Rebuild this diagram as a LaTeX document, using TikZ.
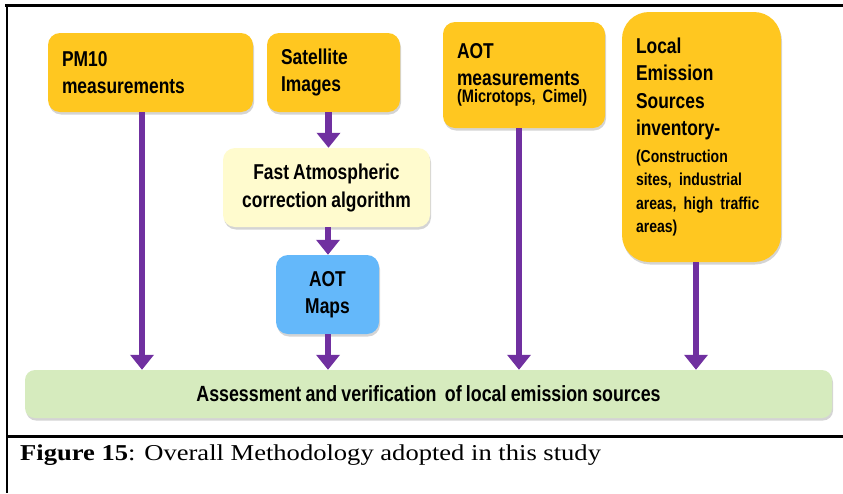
\documentclass[tikz,border=0pt]{standalone}
\usepackage{fontspec}
\setmainfont{Liberation Serif}
\newfontfamily\bxfont[FakeStretch=0.81,WordSpace=0.85]{Liberation Sans}
\newfontfamily\capfont[FakeStretch=1.17]{Liberation Serif}
\usetikzlibrary{arrows.meta,shadows}
\definecolor{gold}{RGB}{255,199,32}
\definecolor{paleyel}{RGB}{255,251,206}
\definecolor{skyblue}{RGB}{100,184,250}
\definecolor{palegreen}{RGB}{214,235,190}
\definecolor{arrowpurple}{RGB}{112,48,160}
\tikzset{
  shad/.style={drop shadow={shadow xshift=1pt,shadow yshift=-2.5pt,opacity=0.28,fill=black!60}},
  goldbox/.style={shad,fill=gold,draw=none,rounded corners=12pt,inner xsep=14pt,inner ysep=0pt,align=left,
     font=\bxfont\bfseries\frenchspacing\fontsize{21.5}{27.5}\selectfont},
  flowarr/.style={draw=arrowpurple,line width=6.5pt,-{Triangle[width=23pt,length=15pt]}},
  frameline/.style={draw=black,line width=2.5pt}
}
\begin{document}
\begin{tikzpicture}[x=1pt,y=-1pt]
\useasboundingbox (0,0) rectangle (843,493);
% frame
\draw[frameline] (5,5.5) -- (843,5.5);
\draw[draw=black,line width=2pt] (7,5) -- (7,493);
\draw[draw=black,line width=2.2pt] (6,436.5) -- (843,436.5);
% boxes
\node[goldbox,text width=177pt,minimum height=79pt] (pm) at (150.5,72.5) {PM10\\measurements};
\node[goldbox,text width=105pt,minimum height=79pt] (sat) at (333.5,72.5) {Satellite\\Images};
\node[goldbox,text width=134pt,minimum height=106pt] (aot) at (524,75) {AOT\\measurements\par\vspace{-3pt}{\fontsize{18}{20}\selectfont (Microtops, Cimel)\par}};
\node[goldbox,rounded corners=27pt,text width=131pt,minimum height=250pt] (loc) at (701.5,137)
  {Local\\Emission\\Sources\\inventory-\par\vspace{3pt}\fontsize{17.3}{23.5}\selectfont(Construction\\sites, industrial\\areas, high traffic\\areas)\par};
\node[shad,fill=paleyel,rounded corners=12pt,minimum width=207pt,minimum height=79pt,align=center,
  font=\bxfont\bfseries\fontsize{21.5}{28}\selectfont] (fast) at (326.5,187.5) {Fast Atmospheric\\correction algorithm};
\node[shad,fill=skyblue,rounded corners=12pt,minimum width=103pt,minimum height=79pt,align=center,
  font=\bxfont\bfseries\fontsize{21.5}{27}\selectfont] (maps) at (327.5,294.5) {AOT\\Maps};
\node[shad,fill=palegreen,rounded corners=10pt,minimum width=807pt,minimum height=48pt,
  font=\bxfont\bfseries\fontsize{22}{24}\selectfont] (bar) at (428.5,394) {Assessment and verification\ \ of local emission sources};
% arrows
\draw[flowarr] ([xshift=-8.5pt]pm.south) -- ([xshift=-8.5pt]pm.south |- bar.north);
\draw[flowarr] ([xshift=-5pt]sat.south) -- ([xshift=-5pt]sat.south |- fast.north);
\draw[flowarr] ([xshift=1.5pt]fast.south) -- ([xshift=1.5pt]fast.south |- maps.north);
\draw[flowarr] ([xshift=0.5pt]maps.south) -- ([xshift=0.5pt]maps.south |- bar.north);
\draw[flowarr] ([xshift=-5pt]aot.south) -- ([xshift=-5pt]aot.south |- bar.north);
\draw[flowarr] ([xshift=-5.5pt]loc.south) -- ([xshift=-5.5pt]loc.south |- bar.north);
% caption
\node[anchor=base west,inner sep=0pt,font=\capfont\fontsize{22.7}{26}\selectfont] (cap) at (20,460) {\textbf{Figure 15}: Overall Methodology adopted in this study};
\end{tikzpicture}
\end{document}
